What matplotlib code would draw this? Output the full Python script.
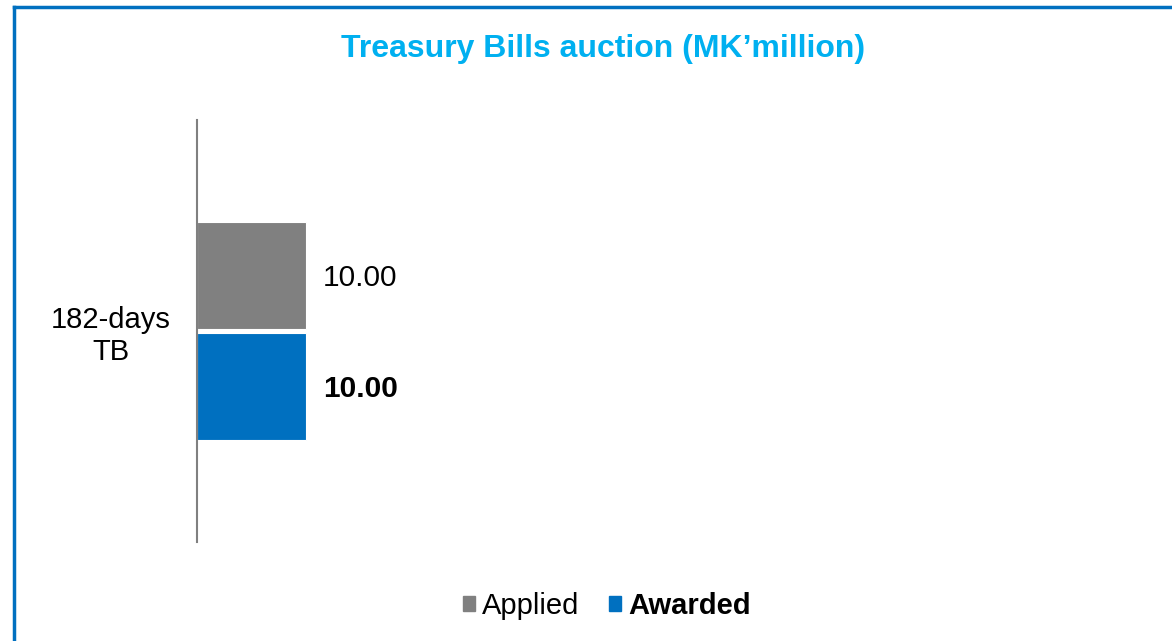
import matplotlib
matplotlib.use("Agg")
import matplotlib.pyplot as plt
from matplotlib.patches import Rectangle
from matplotlib.lines import Line2D

plt.rcParams['font.family'] = ['Liberation Sans', 'DejaVu Sans']

category = "182-days\nTB"
series_names = ["Applied", "Awarded"]
series_values = [10.00, 10.00]
series_colors = ["#808080", "#0070C0"]
title_text = "Treasury Bills auction (MK\u2019million)"

W, H = 1172, 641
fig = plt.figure(figsize=(W / 100, H / 100), dpi=100)

# plot area in pixel coordinates
left, right, top, bottom = 197, 1150, 120, 542
ax = fig.add_axes([left / W, 1 - bottom / H, (right - left) / W, (bottom - top) / H])

bar_h = 0.2536
offset = 0.1315
ypos = [offset, -offset]
for y, v, c in zip(ypos, series_values, series_colors):
    ax.barh(y, v, height=bar_h, color=c, edgecolor="white", linewidth=0.8)

ax.set_xlim(0, 87.4)
ax.set_ylim(-0.5, 0.5)
ax.set_xticks([])
ax.set_yticks([0])
ax.set_yticklabels([category], fontsize=21, ha="center", linespacing=1.2)
ax.tick_params(axis="y", length=0, pad=62)
for s in ["top", "right", "bottom"]:
    ax.spines[s].set_visible(False)
ax.spines["left"].set_color("#808080")
ax.spines["left"].set_linewidth(1.5)

for i, (y, v) in enumerate(zip(ypos, series_values)):
    ax.annotate(f"{v:.2f}", xy=(v, y), xytext=(12, -2), textcoords="offset points",
                xycoords="data", va="center", ha="left", fontsize=21.5,
                fontweight="bold" if i == 1 else "normal", color="black")

fig.text(603 / W, 1 - 49 / H, title_text, ha="center", va="center",
         fontsize=23, fontweight="bold", color="#00B0F0")

# outer frame (top and left edges)
fig.add_artist(Line2D([14 / W, 1], [1 - 7 / H, 1 - 7 / H], transform=fig.transFigure,
                      color="#0070C0", linewidth=2.5))
fig.add_artist(Line2D([14 / W, 14 / W], [1 - 7 / H, 0], transform=fig.transFigure,
                      color="#0070C0", linewidth=2.5))

handles = [Rectangle((0, 0), 1, 1, color=c) for c in series_colors]
leg = fig.legend(handles, series_names, loc="center", bbox_to_anchor=(607 / W, 1 - 606 / H),
                 ncol=2, frameon=False, fontsize=21, handlelength=0.4, handleheight=0.4,
                 handletextpad=0.25, columnspacing=1.0)
leg.get_texts()[1].set_fontweight("bold")

fig.savefig("out.png", dpi=100)
